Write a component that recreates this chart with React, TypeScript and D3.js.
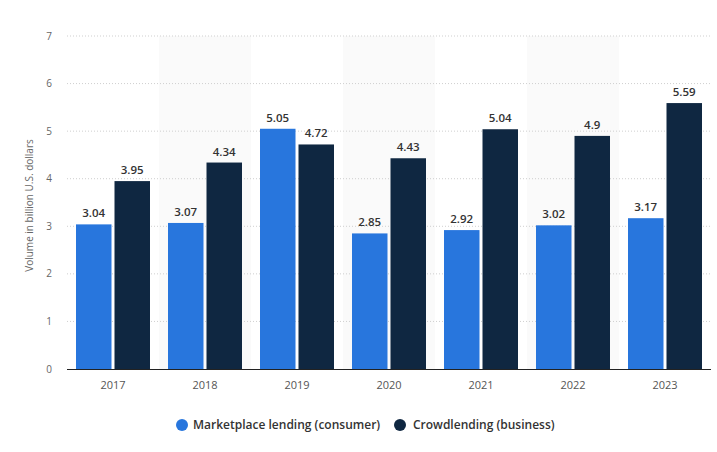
import React from "react";
import * as d3 from "d3";

const categories = ["2017", "2018", "2019", "2020", "2021", "2022", "2023"];
const marketplace = [3.04, 3.07, 5.05, 2.85, 2.92, 3.02, 3.17];
const crowdlending = [3.95, 4.34, 4.72, 4.43, 5.04, 4.9, 5.59];
const yTicks = [0, 1, 2, 3, 4, 5, 6, 7];
const seriesNames = ["Marketplace lending (consumer)", "Crowdlending (business)"];
const colors = ["#2876DD", "#0F2741"];

export default function App() {
  const W = 717, H = 452;
  const left = 67, right = 711, top = 36, bottom = 369;
  const x = d3.scaleBand<string>().domain(categories).range([left, right]);
  const y = d3.scaleLinear().domain([0, 7]).range([bottom, top]);
  const bw = x.bandwidth();
  const barW = 35.5;
  const gap = 3;
  const series = [marketplace, crowdlending];
  const font = "'Open Sans', 'Noto Sans', Arial, sans-serif";
  return (
    <svg width={W} height={H} style={{ position: "absolute", left: 0, top: 0, background: "#fff" }} fontFamily={font}>
      {categories.map((c, i) =>
        i % 2 === 1 ? (
          <rect key={c} x={x(c)} y={top} width={bw} height={bottom - top} fill="#fafafa" />
        ) : null
      )}
      {yTicks.map((t) => (
        <g key={t}>
          {t > 0 && (
            <line x1={left} x2={right} y1={y(t)} y2={y(t)} stroke="#cfcfcf" strokeDasharray="1,2" strokeWidth={1} />
          )}
          <text x={49} y={y(t)} dy="0.35em" textAnchor="middle" fontSize={10} fill="#666">
            {t}
          </text>
        </g>
      ))}
      <text
        transform={`translate(33,${(top + bottom) / 2 + 3}) rotate(-90)`}
        textAnchor="middle"
        fontSize={10}
        fill="#666"
      >
        Volume in billion U.S. dollars
      </text>
      {categories.map((c, i) => {
        const cx = (x(c) as number) + bw / 2;
        return (
          <g key={c}>
            {series.map((s, k) => {
              const bx = k === 0 ? cx - gap / 2 - barW : cx + gap / 2;
              const v = s[i];
              return (
                <g key={k}>
                  <rect x={bx} y={y(v)} width={barW} height={bottom - y(v)} fill={colors[k]} />
                  <text x={bx + barW / 2} y={y(v) - 7} textAnchor="middle" fontSize={11.5} fontWeight={600} fill="#333">
                    {v}
                  </text>
                </g>
              );
            })}
            <text x={cx} y={bottom + 20} textAnchor="middle" fontSize={11} fill="#555">
              {c}
            </text>
          </g>
        );
      })}
      <line x1={left} x2={right} y1={bottom + 0.5} y2={bottom + 0.5} stroke="#222" strokeWidth={1} />
      <g>
        <circle cx={182} cy={425} r={6} fill={colors[0]} />
        <text x={193} y={425} dy="0.35em" fontSize={12} fontWeight={600} fill="#333">{seriesNames[0]}</text>
        <circle cx={400} cy={425} r={6} fill={colors[1]} />
        <text x={413} y={425} dy="0.35em" fontSize={12} fontWeight={600} fill="#333">{seriesNames[1]}</text>
      </g>
    </svg>
  );
}
